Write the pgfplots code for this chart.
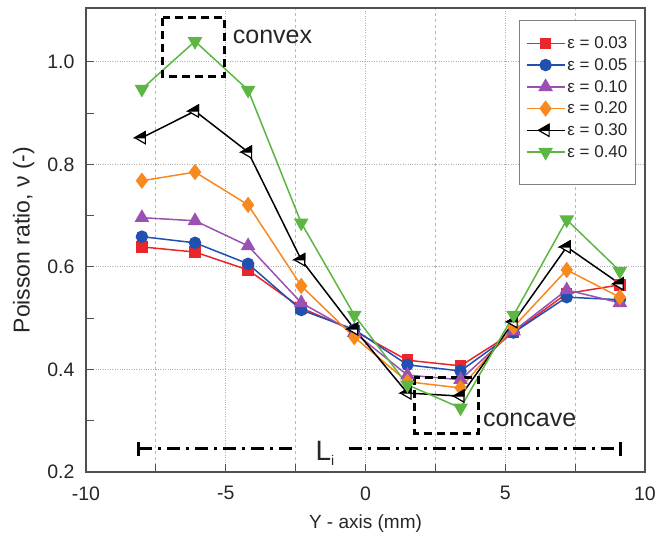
\documentclass[border=0pt]{standalone}
\usepackage{fontspec}
\setmainfont{Liberation Sans}
\usepackage{pgfplots}
\pgfplotsset{compat=1.18}
\usetikzlibrary{arrows.meta}
\definecolor{cred}{RGB}{232,38,43}
\definecolor{cblue}{RGB}{32,80,176}
\definecolor{cpurple}{RGB}{155,80,180}
\definecolor{corange}{RGB}{247,137,31}
\definecolor{cgreen}{RGB}{91,182,66}
\definecolor{frame}{RGB}{80,80,80}
\pgfdeclareplotmark{halflefttri}{%
  \pgfpathmoveto{\pgfqpoint{-\pgfplotmarksize}{0pt}}%
  \pgfpathlineto{\pgfqpoint{0.5\pgfplotmarksize}{0.866\pgfplotmarksize}}%
  \pgfpathlineto{\pgfqpoint{0.5\pgfplotmarksize}{-0.866\pgfplotmarksize}}%
  \pgfpathclose
  \pgfsetfillcolor{white}\pgfusepathqfillstroke
  \pgfpathmoveto{\pgfqpoint{-\pgfplotmarksize}{0pt}}%
  \pgfpathlineto{\pgfqpoint{0.5\pgfplotmarksize}{0.866\pgfplotmarksize}}%
  \pgfpathlineto{\pgfqpoint{0.5\pgfplotmarksize}{0pt}}%
  \pgfpathclose
  \pgfsetfillcolor{black}\pgfusepathqfillstroke
}
\begin{document}
\begin{tikzpicture}
\useasboundingbox (-86pt,-66pt) rectangle (571pt,472pt);
\begin{axis}[
  scale only axis,
  width=559pt, height=464pt,
  xmin=-10, xmax=10, ymin=0.2, ymax=1.105,
  xtick={-10,-5,0,5,10},
  minor xtick={-7.5,-2.5,2.5,7.5},
  ytick={0.2,0.4,0.6,0.8,1.0},
  minor ytick={0.3,0.5,0.7,0.9},
  yticklabel style={/pgf/number format/fixed,/pgf/number format/fixed zerofill,/pgf/number format/precision=1, xshift=-8pt},
  xticklabel style={yshift=-11pt},
  /pgf/number format/assume math mode=true,
  tick pos=left,
  tick align=inside,
  major tick length=8pt, minor tick length=8pt,
  every tick/.style={frame, line width=1pt},
  axis line style={frame, line width=1.5pt},
  xmajorgrids, xminorgrids, ymajorgrids,
  major grid style={dotted, gray!60, line width=1pt},
  minor grid style={dashed, gray!55, line width=1pt},
  tick label style={font=\fontsize{19.5}{22}\selectfont, text=black!85},
  xlabel style={font=\fontsize{19}{23}\selectfont, text=black!85},
  ylabel style={font=\fontsize{23}{26}\selectfont, text=black!85},
  xlabel shift=8pt,
  ylabel shift=6pt,
  xlabel={Y - axis (mm)},
  ylabel={Poisson ratio, ν (-)},
  legend style={at={(1,1)}, anchor=north east, xshift=-9pt, yshift=-12pt,
    draw=gray, line width=1.2pt, fill=white,
    font=\fontsize{17}{20}\selectfont, text=black!85,
    inner xsep=6pt, inner ysep=14pt, row sep=4.4pt},
  legend cell align=left,
  legend image code/.code={\draw[mark repeat=2,mark phase=2] plot coordinates {(0pt,0pt)(19pt,0pt)(38pt,0pt)};},
  every axis plot/.append style={line width=1.5pt},
]
\addplot[cred, mark=square*, mark size=5pt, mark options={solid}] coordinates {
(-8.0,0.639) (-6.1,0.629) (-4.2,0.594) (-2.3,0.520) (-0.4,0.475) (1.5,0.418) (3.4,0.407) (5.3,0.473) (7.2,0.548) (9.1,0.565)};
\addlegendentry{ε = 0.03}
\addplot[cblue, mark=*, mark size=5.5pt] coordinates {
(-8.0,0.659) (-6.1,0.647) (-4.2,0.606) (-2.3,0.516) (-0.4,0.478) (1.5,0.409) (3.4,0.397) (5.3,0.472) (7.2,0.541) (9.1,0.536)};
\addlegendentry{ε = 0.05}
\addplot[cpurple, mark=triangle*, mark size=7pt] coordinates {
(-8.0,0.696) (-6.1,0.690) (-4.2,0.641) (-2.3,0.530) (-0.4,0.472) (1.5,0.389) (3.4,0.380) (5.3,0.475) (7.2,0.555) (9.1,0.530)};
\addlegendentry{ε = 0.10}
\addplot[corange, mark=diamond*, mark size=7pt] coordinates {
(-8.0,0.768) (-6.1,0.785) (-4.2,0.721) (-2.3,0.563) (-0.4,0.463) (1.5,0.376) (3.4,0.364) (5.3,0.483) (7.2,0.594) (9.1,0.541)};
\addlegendentry{ε = 0.20}
\addplot[black, mark=halflefttri, mark size=7pt, mark options={line width=1.2pt}] coordinates {
(-8.0,0.852) (-6.1,0.904) (-4.2,0.824) (-2.3,0.614) (-0.4,0.479) (1.5,0.354) (3.4,0.348) (5.3,0.493) (7.2,0.639) (9.1,0.567)};
\addlegendentry{ε = 0.30}
\addplot[cgreen, mark=triangle*, mark size=7pt, mark options={rotate=180}] coordinates {
(-8.0,0.947) (-6.1,1.040) (-4.2,0.945) (-2.3,0.686) (-0.4,0.506) (1.5,0.370) (3.4,0.325) (5.3,0.506) (7.2,0.692) (9.1,0.592)};
\addlegendentry{ε = 0.40}
\addlegendimage{empty legend}\addlegendentry{\rule[-5pt]{0pt}{1pt}}
% annotations
\draw[black, line width=3pt, dash pattern=on 8pt off 5pt] (axis cs:-7.25,1.086) rectangle (axis cs:-5.04,0.971);
\node[anchor=west, font=\fontsize{25}{28}\selectfont, text=black!85, inner sep=0pt] at (axis cs:-4.75,1.048) {convex};
\draw[black, line width=3pt, dash pattern=on 8pt off 5pt] (axis cs:1.75,0.385) rectangle (axis cs:4.04,0.276);
\node[anchor=west, font=\fontsize{25}{28}\selectfont, text=black!85, inner sep=0pt] at (axis cs:4.2,0.302) {concave};
\draw[black, line width=3pt, dash pattern=on 13pt off 6pt on 3pt off 6pt, {Bar[width=14pt,line width=3pt]}-] (axis cs:-8.18,0.245) -- (axis cs:-2.6,0.245);
\draw[black, line width=3pt, dash pattern=on 13pt off 6pt on 3pt off 6pt, -{Bar[width=14pt,line width=3pt]}] (axis cs:-0.6,0.245) -- (axis cs:9.18,0.245);
\node[font=\fontsize{28}{30}\selectfont, text=black!85, inner sep=0pt] at (axis cs:-1.45,0.236) {L\raisebox{-0.35ex}{\fontsize{14}{14}\selectfont i}};
\end{axis}
\end{tikzpicture}
\end{document}
